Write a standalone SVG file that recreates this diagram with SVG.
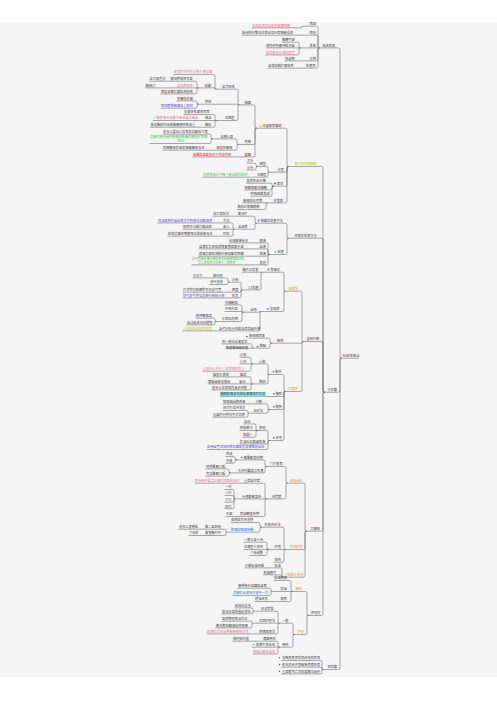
<svg xmlns="http://www.w3.org/2000/svg" width="497" height="702" viewBox="0 0 497 702">
<style>
text{font-family:"Noto Sans CJK SC","Noto Sans",sans-serif;font-size:3.2px;fill:#3c3c3c}
.pk{fill:#f06e8c}.rd{fill:#e8283c}.pu{fill:#5b45d6}.gr{fill:#39c548}.ye{fill:#cfc800}.or{fill:#f0882a}.bl{fill:#3d7fd9}
.rt{font-size:3.4px}
.sm{font-size:2.9px}
#connectors path{fill:none;stroke:#555;stroke-width:0.5}
</style>
<rect x="0" y="0" width="497" height="702" fill="#ffffff"/>
<rect x="0" y="22" width="497" height="655" fill="#f5f5f5"/>
<g id="connectors">
<path d="M340 358.2H359"/>
<path d="M318 47.9H338.5Q340 47.9 340 49.4V356.7Q340 358.2 341.5 358.2"/>
<path d="M323 392.2H338.5Q340 392.2 340 390.7V359.7Q340 358.2 341.5 358.2"/>
<path d="M322 669.5H338.5Q340 669.5 340 668V359.7Q340 358.2 341.5 358.2"/>
<path d="M302 26.2H316.5Q318 26.2 318 27.7V46.4Q318 47.9 319.5 47.9"/>
<path d="M302 35.2H316.5Q318 35.2 318 36.7V46.4Q318 47.9 319.5 47.9"/>
<path d="M299 47.9H318"/>
<path d="M302 60.9H316.5Q318 60.9 318 59.4V49.4Q318 47.9 319.5 47.9"/>
<path d="M302 68.2H316.5Q318 68.2 318 66.7V49.4Q318 47.9 319.5 47.9"/>
<path d="M251.5 27.8H301Q302 27.8 302 26.2"/>
<path d="M241.5 35.2H302"/>
<path d="M281.5 42.2H297.5Q299 42.2 299 43.7V46.4Q299 47.9 300.5 47.9"/>
<path d="M265.5 47.9H299"/>
<path d="M265.5 54.9H297.5Q299 54.9 299 53.4V49.4Q299 47.9 300.5 47.9"/>
<path d="M284.5 60.9H302"/>
<path d="M267.5 68.2H302"/>
<path d="M287 166.5H321.5Q323 166.5 323 168V390.7Q323 392.2 324.5 392.2"/>
<path d="M287 238.2H321.5Q323 238.2 323 239.7V390.7Q323 392.2 324.5 392.2"/>
<path d="M302 341.5H321.5Q323 341.5 323 343V390.7Q323 392.2 324.5 392.2"/>
<path d="M305 531.2H321.5Q323 531.2 323 529.7V393.7Q323 392.2 324.5 392.2"/>
<path d="M307 615.5H321.5Q323 615.5 323 614V393.7Q323 392.2 324.5 392.2"/>
<path d="M255 128.2H285.5Q287 128.2 287 129.7V165Q287 166.5 288.5 166.5"/>
<path d="M268 172.2H285.5Q287 172.2 287 170.7V168Q287 166.5 288.5 166.5"/>
<path d="M272 186.2H285.5Q287 186.2 287 184.7V168Q287 166.5 288.5 166.5"/>
<path d="M266 202.9H285.5Q287 202.9 287 201.4V168Q287 166.5 288.5 166.5"/>
<path d="M238 104.9H253.5Q255 104.9 255 106.4V126.7Q255 128.2 256.5 128.2"/>
<path d="M237 144.5H253.5Q255 144.5 255 143V129.7Q255 128.2 256.5 128.2"/>
<path d="M237 156.9H253.5Q255 156.9 255 155.4V129.7Q255 128.2 256.5 128.2"/>
<path d="M215 89.2H236.5Q238 89.2 238 90.7V103.4Q238 104.9 239.5 104.9"/>
<path d="M197 104.2H237.2Q238 104.2 238 104.9"/>
<path d="M215 120.5H236.5Q238 120.5 238 119V106.4Q238 104.9 239.5 104.9"/>
<path d="M173.5 74.5H213.5Q215 74.5 215 76V87.7Q215 89.2 216.5 89.2"/>
<path d="M197 87.9H214Q215 87.9 215 89.2"/>
<path d="M168 81.2H195.5Q197 81.2 197 82.7V86.4Q197 87.9 198.5 87.9"/>
<path d="M174 87.9H197"/>
<path d="M160.5 93.9H195.5Q197 93.9 197 92.4V89.4Q197 87.9 198.5 87.9"/>
<path d="M149 81.2H168"/>
<path d="M145 87.9H174"/>
<path d="M176.5 100.9H195.5Q197 100.9 197 102.4V102.7Q197 104.2 198.5 104.2"/>
<path d="M160.5 108.2H195.5Q197 108.2 197 106.7V105.7Q197 104.2 198.5 104.2"/>
<path d="M183.5 114.5H213.5Q215 114.5 215 116V119Q215 120.5 216.5 120.5"/>
<path d="M200 120.5H215"/>
<path d="M198 127.2H213.5Q215 127.2 215 125.7V122Q215 120.5 216.5 120.5"/>
<path d="M153 120.5H200"/>
<path d="M150 127.2H198"/>
<path d="M211 138.9H235.5Q237 138.9 237 140.4V143Q237 144.5 238.5 144.5"/>
<path d="M209 150.2H235.5Q237 150.2 237 148.7V146Q237 144.5 238.5 144.5"/>
<path d="M162.5 134.2H209.5Q211 134.2 211 135.7V137.4Q211 138.9 212.5 138.9"/>
<path d="M149.5 143.5H209.5Q211 143.5 211 142V140.4Q211 138.9 212.5 138.9"/>
<path d="M162.5 150.2H209"/>
<path d="M192.5 156.9H237"/>
<path d="M256 166.5H266.5Q268 166.5 268 168V170.7Q268 172.2 269.5 172.2"/>
<path d="M252 177.2H266.5Q268 177.2 268 175.7V173.7Q268 172.2 269.5 172.2"/>
<path d="M246.5 163.2H254.5Q256 163.2 256 164.7V165Q256 166.5 257.5 166.5"/>
<path d="M246.5 169.9H254.5Q256 169.9 256 168.4V168Q256 166.5 257.5 166.5"/>
<path d="M202.5 177.2H252"/>
<path d="M246 183.2H270.5Q272 183.2 272 184.7Q272 186.2 273.5 186.2"/>
<path d="M244 189.9H270.5Q272 189.9 272 188.4V187.7Q272 186.2 273.5 186.2"/>
<path d="M250 196.2H270.5Q272 196.2 272 194.7V187.7Q272 186.2 273.5 186.2"/>
<path d="M242.5 202.9H266"/>
<path d="M237 209.5H264.5Q266 209.5 266 208V204.4Q266 202.9 267.5 202.9"/>
<path d="M255 223.2H285.5Q287 223.2 287 224.7V236.7Q287 238.2 288.5 238.2"/>
<path d="M268 254.5H285.5Q287 254.5 287 253V239.7Q287 238.2 288.5 238.2"/>
<path d="M233 216.2H253.5Q255 216.2 255 217.7V221.7Q255 223.2 256.5 223.2"/>
<path d="M233 229.2H253.5Q255 229.2 255 227.7V224.7Q255 223.2 256.5 223.2"/>
<path d="M212.5 216.2H233"/>
<path d="M217 222.9H231.5Q233 222.9 233 224.4V227.7Q233 229.2 234.5 229.2"/>
<path d="M217 229.2H233"/>
<path d="M217 236.2H231.5Q233 236.2 233 234.7V230.7Q233 229.2 234.5 229.2"/>
<path d="M157.5 222.9H217"/>
<path d="M182.5 229.2H217"/>
<path d="M167.5 236.2H217"/>
<path d="M251 242.9H266.5Q268 242.9 268 244.4V253Q268 254.5 269.5 254.5"/>
<path d="M251 248.9H266.5Q268 248.9 268 250.4V253Q268 254.5 269.5 254.5"/>
<path d="M251 256.2H267Q268 256.2 268 254.5"/>
<path d="M251 264.9H266.5Q268 264.9 268 263.4V256Q268 254.5 269.5 254.5"/>
<path d="M228.5 242.9H251"/>
<path d="M198.5 248.9H251"/>
<path d="M198.5 256.2H251"/>
<path d="M191.5 264.9H251"/>
<path d="M284 291.2H300.5Q302 291.2 302 292.7V340Q302 341.5 303.5 341.5"/>
<path d="M270 343.2H301Q302 343.2 302 341.5"/>
<path d="M284 391.5H300.5Q302 391.5 302 390V343Q302 341.5 303.5 341.5"/>
<path d="M261 272.2H282.5Q284 272.2 284 273.7V289.7Q284 291.2 285.5 291.2"/>
<path d="M260 311.5H282.5Q284 311.5 284 310V292.7Q284 291.2 285.5 291.2"/>
<path d="M242 272.2H261"/>
<path d="M241 289.9H259.5Q261 289.9 261 288.4V273.7Q261 272.2 262.5 272.2"/>
<path d="M228 282.2H239.5Q241 282.2 241 283.7V288.4Q241 289.9 242.5 289.9"/>
<path d="M228 292.2H240Q241 292.2 241 289.9"/>
<path d="M228 297.9H239.5Q241 297.9 241 296.4V291.4Q241 289.9 242.5 289.9"/>
<path d="M209 277.9H226.5Q228 277.9 228 279.4V280.7Q228 282.2 229.5 282.2"/>
<path d="M209.5 284.5H227Q228 284.5 228 282.2"/>
<path d="M192.5 277.9H209"/>
<path d="M182.5 292.2H228"/>
<path d="M182.5 297.9H228"/>
<path d="M242 312.2H259Q260 312.2 260 311.5"/>
<path d="M216 330.9H258.5Q260 330.9 260 329.4V313Q260 311.5 261.5 311.5"/>
<path d="M224.5 304.9H240.5Q242 304.9 242 306.4V310.7Q242 312.2 243.5 312.2"/>
<path d="M224.5 311.5H241.3Q242 311.5 242 312.2"/>
<path d="M215 321.5H240.5Q242 321.5 242 320V313.7Q242 312.2 243.5 312.2"/>
<path d="M195.5 318.2H213.5Q215 318.2 215 319.7V320Q215 321.5 216.5 321.5"/>
<path d="M186.5 324.9H213.5Q215 324.9 215 323.4V323Q215 321.5 216.5 321.5"/>
<path d="M182.5 330.9H216"/>
<path d="M248.5 338.2H268.5Q270 338.2 270 339.7V341.7Q270 343.2 271.5 343.2"/>
<path d="M252 348.2H268.5Q270 348.2 270 346.7V344.7Q270 343.2 271.5 343.2"/>
<path d="M221.5 343.9H250.5Q252 343.9 252 345.4V346.7Q252 348.2 253.5 348.2"/>
<path d="M225.5 348.2H252"/>
<path d="M268 374.5H282.5Q284 374.5 284 376V390Q284 391.5 285.5 391.5"/>
<path d="M270 396.5H282.5Q284 396.5 284 395V393Q284 391.5 285.5 391.5"/>
<path d="M268 409.5H282.5Q284 409.5 284 408V393Q284 391.5 285.5 391.5"/>
<path d="M268 440.5H282.5Q284 440.5 284 439V393Q284 391.5 285.5 391.5"/>
<path d="M251 363.9H266.5Q268 363.9 268 365.4V373Q268 374.5 269.5 374.5"/>
<path d="M251 383.9H266.5Q268 383.9 268 382.4V376Q268 374.5 269.5 374.5"/>
<path d="M239.5 357.2H249.5Q251 357.2 251 358.7V362.4Q251 363.9 252.5 363.9"/>
<path d="M239.5 363.9H251"/>
<path d="M202.5 371.2H249.5Q251 371.2 251 369.7V365.4Q251 363.9 252.5 363.9"/>
<path d="M235 376.9H249.5Q251 376.9 251 378.4V382.4Q251 383.9 252.5 383.9"/>
<path d="M235 383.9H251"/>
<path d="M211.5 389.9H249.5Q251 389.9 251 388.4V385.4Q251 383.9 252.5 383.9"/>
<path d="M212.5 376.9H235"/>
<path d="M207.5 383.9H235"/>
<path d="M220 396.5H270"/>
<path d="M248 403.9H266.5Q268 403.9 268 405.4V408Q268 409.5 269.5 409.5"/>
<path d="M248 413.2H266.5Q268 413.2 268 411.7V411Q268 409.5 269.5 409.5"/>
<path d="M222.5 403.9H248"/>
<path d="M222.5 410.5H247Q248 410.5 248 411.5V413.2"/>
<path d="M212.5 417.2H246.5Q248 417.2 248 415.7V413.2"/>
<path d="M256 430.5H266.5Q268 430.5 268 432V439Q268 440.5 269.5 440.5"/>
<path d="M239.5 443.9H266.5Q268 443.9 268 442.4V442Q268 440.5 269.5 440.5"/>
<path d="M206.5 449.5H266.5Q268 449.5 268 448V442Q268 440.5 269.5 440.5"/>
<path d="M243.5 423.9H254.5Q256 423.9 256 425.4V429Q256 430.5 257.5 430.5"/>
<path d="M239.5 430.5H256"/>
<path d="M242.5 437.2H254.5Q256 437.2 256 435.7V432Q256 430.5 257.5 430.5"/>
<path d="M286 483.2H303.5Q305 483.2 305 484.7V529.7Q305 531.2 306.5 531.2"/>
<path d="M284 549.5H303.5Q305 549.5 305 548V532.7Q305 531.2 306.5 531.2"/>
<path d="M282 577.2H303.5Q305 577.2 305 575.7V532.7Q305 531.2 306.5 531.2"/>
<path d="M265 466.5H284.5Q286 466.5 286 468V481.7Q286 483.2 287.5 483.2"/>
<path d="M265 498.9H284.5Q286 498.9 286 497.4V484.7Q286 483.2 287.5 483.2"/>
<path d="M235 459.9H263.5Q265 459.9 265 461.4V465Q265 466.5 266.5 466.5"/>
<path d="M229 472.9H263.5Q265 472.9 265 471.4V468Q265 466.5 266.5 466.5"/>
<path d="M225.5 456.5H233.5Q235 456.5 235 458V458.4Q235 459.9 236.5 459.9"/>
<path d="M225.5 463.2H233.5Q235 463.2 235 461.7V461.4Q235 459.9 236.5 459.9"/>
<path d="M205.5 468.9H227.5Q229 468.9 229 470.4V471.4Q229 472.9 230.5 472.9"/>
<path d="M205.5 476.2H227.5Q229 476.2 229 474.7V474.4Q229 472.9 230.5 472.9"/>
<path d="M241 483.2H263.5Q265 483.2 265 484.7V497.4Q265 498.9 266.5 498.9"/>
<path d="M234 498.9H265"/>
<path d="M235 516.5H263.5Q265 516.5 265 515V500.4Q265 498.9 266.5 498.9"/>
<path d="M194.5 483.2H241"/>
<path d="M224.5 489.5H232.5Q234 489.5 234 491V497.4Q234 498.9 235.5 498.9"/>
<path d="M224.5 495.5H232.5Q234 495.5 234 497V498.9"/>
<path d="M224.5 502.2H232.5Q234 502.2 234 500.7V498.9"/>
<path d="M224.5 508.7H232.5Q234 508.7 234 507.2V498.9"/>
<path d="M225.5 516.5H235"/>
<path d="M260 527.2H282.5Q284 527.2 284 528.7V548Q284 549.5 285.5 549.5"/>
<path d="M267 549.5H284"/>
<path d="M274 562.2H282.5Q284 562.2 284 560.7V551Q284 549.5 285.5 549.5"/>
<path d="M230.5 522.5H258.5Q260 522.5 260 524V525.7Q260 527.2 261.5 527.2"/>
<path d="M226 532.2H258.5Q260 532.2 260 530.7V528.7Q260 527.2 261.5 527.2"/>
<path d="M202 529.2H224.5Q226 529.2 226 530.7V532.2"/>
<path d="M202 535.5H224.5Q226 535.5 226 534V532.2"/>
<path d="M178.5 529.2H202"/>
<path d="M188.5 535.5H202"/>
<path d="M243.5 542.2H265.5Q267 542.2 267 543.7V548Q267 549.5 268.5 549.5"/>
<path d="M243.5 549.5H267"/>
<path d="M249.5 555.5H265.5Q267 555.5 267 554V551Q267 549.5 268.5 549.5"/>
<path d="M266 567.9H280.5Q282 567.9 282 569.4V575.7Q282 577.2 283.5 577.2"/>
<path d="M263 574.9H281Q282 574.9 282 576V577.2"/>
<path d="M244.5 567.9H266"/>
<path d="M291 591.5H305.5Q307 591.5 307 593V614Q307 615.5 308.5 615.5"/>
<path d="M293 634.5H305.5Q307 634.5 307 633V617Q307 615.5 308.5 615.5"/>
<path d="M273.5 580.5H289.5Q291 580.5 291 582V590Q291 591.5 292.5 591.5"/>
<path d="M271 591.5H291"/>
<path d="M271 601.5H289.5Q291 601.5 291 600V593Q291 591.5 292.5 591.5"/>
<path d="M237.5 588.2H269.5Q271 588.2 271 589.7V591.5"/>
<path d="M232.5 595.5H269.5Q271 595.5 271 594V591.5"/>
<path d="M254.5 601.5H271"/>
<path d="M278 623.2H291.5Q293 623.2 293 624.7V633Q293 634.5 294.5 634.5"/>
<path d="M278 647.2H291.5Q293 647.2 293 645.7V636Q293 634.5 294.5 634.5"/>
<path d="M253 611.2H276.5Q278 611.2 278 612.7V621.7Q278 623.2 279.5 623.2"/>
<path d="M252 623.2H278"/>
<path d="M252 633.9H276.5Q278 633.9 278 632.4V624.7Q278 623.2 279.5 623.2"/>
<path d="M234.5 607.9H251.5Q253 607.9 253 609.4V611.2"/>
<path d="M221.5 613.9H251.5Q253 613.9 253 612.4V611.2"/>
<path d="M221.5 621.2H251Q252 621.2 252 622.2V623.2"/>
<path d="M215.5 627.9H250.5Q252 627.9 252 626.4V623.2"/>
<path d="M206.5 633.9H252"/>
<path d="M253 641.2H276.5Q278 641.2 278 642.7V645.7Q278 647.2 279.5 647.2"/>
<path d="M252 647.2H278"/>
<path d="M252.5 653.9H276.5Q278 653.9 278 652.4V648.7Q278 647.2 279.5 647.2"/>
<path d="M232.5 641.2H253"/>
<path d="M281.5 660.5H320.5Q322 660.5 322 662V668Q322 669.5 323.5 669.5"/>
<path d="M281.5 667.2H320.5Q322 667.2 322 668.2V669.5"/>
<path d="M281.5 673.9H320.5Q322 673.9 322 672.4V669.5"/>
</g>
<g id="root"><text class="rt" x="342.5" y="357.2">社区性肺炎</text></g>
<g id="n-l1a"><text x="322.5" y="46.8">临床表现</text></g>
<g id="n-l1b"><text x="327.5" y="391.1">诊疗篇</text></g>
<g id="n-l1c"><text x="327.5" y="668.4">预后篇</text></g>
<g id="n-t1"><text x="309.5" y="25.1">病因</text></g>
<g id="n-t2"><text x="309.5" y="34.1">病理</text></g>
<g id="n-t3"><text x="309.5" y="46.8">表现</text></g>
<g id="n-t4"><text x="309.5" y="59.8">分期</text></g>
<g id="n-t5"><text x="306" y="67.1">检查项</text></g>
<g id="n-t1c"><text class="pk" x="252" y="26.7">急性起病寒战高热胸痛咳嗽</text></g>
<g id="n-t2c"><text x="242" y="34.1">肺泡内纤维蛋白渗出及炎症细胞浸润</text></g>
<g id="n-t3c1"><text x="282" y="41.1">胸痛气促</text></g>
<g id="n-t3c2"><text x="266" y="46.8">咳铁锈色痰呼吸急促</text></g>
<g id="n-t3c3"><text class="pk" x="266" y="53.8">肺实变体征湿性啰音</text></g>
<g id="n-t4c"><text x="285" y="59.8">充血期</text></g>
<g id="n-t5c"><text x="268" y="67.1">血常规胸片痰培养</text></g>
<g id="n-A"><text class="ye" x="294.5" y="165.4">肺炎链球菌感染</text></g>
<g id="n-B"><text x="294.5" y="237.1">病原学检查方法</text></g>
<g id="n-C"><text x="306.5" y="340.4">鉴别诊断</text></g>
<g id="n-D"><text x="310.5" y="530.1">抗感染</text></g>
<g id="n-E"><text x="311" y="614.4">护理学</text></g>
<g id="n-a1"><circle cx="260.5" cy="126" r="0.9" fill="#e6d200"/><text x="262.5" y="127.1">主要致病菌群</text></g>
<g id="n-a2"><text x="277.5" y="171.1">分型</text></g>
<g id="n-a3"><circle cx="275" cy="183.5" r="0.9" fill="#e8283c"/><text x="277" y="185.1">症状</text></g>
<g id="n-a4"><text x="273.5" y="201.8">并发症</text></g>
<g id="n-a1a"><text x="244.5" y="103.8">细菌</text></g>
<g id="n-a1b"><text x="244.5" y="143.4">病毒</text></g>
<g id="n-a1c"><text x="244.5" y="155.8">真菌</text></g>
<g id="n-228"><text x="222" y="88.1">革兰阳性</text></g>
<g id="n-209"><text x="205" y="103.1">阴性</text></g>
<g id="n-227"><text x="225" y="119.4">非典型</text></g>
<g id="n-pk1"><text class="pk" x="174" y="73.4">痰呈铁锈色提示肺炎链球菌</text></g>
<g id="n-207"><text x="204.5" y="86.8">球菌</text></g>
<g id="n-170"><text x="170.5" y="80.1">痰培养阳性率高</text></g>
<g id="n-170c"><text x="149.5" y="80.1">革兰染色法</text></g>
<g id="n-pk2"><text class="pk" x="177" y="86.8">血培养阳性</text></g>
<g id="n-pk2c"><text x="145.5" y="86.8">胸部CT</text></g>
<g id="n-161"><text x="161" y="92.8">荚膜多糖抗原检测阳性</text></g>
<g id="n-177"><text x="177" y="99.8">克雷伯杆菌</text></g>
<g id="n-pu1"><text class="pu" x="161" y="107.1">铜绿假单胞菌多重耐药</text></g>
<g id="n-184"><text x="184" y="113.4">支原体衣原体军团</text></g>
<g id="n-205a"><text x="205" y="119.4">咯血</text></g>
<g id="n-205ac"><text class="pk" x="153.5" y="119.4">少数患者出现痰中带血或大咯血</text></g>
<g id="n-205b"><text x="205" y="126.1">胸膜</text></g>
<g id="n-205bc"><text x="150.5" y="126.1">累及胸膜时出现胸痛随呼吸加重</text></g>
<g id="n-220"><text x="220.5" y="137.8">易感人群</text></g>
<g id="n-163a"><text x="163" y="133.1">老年人婴幼儿及免疫功能低下者</text></g>
<g id="n-g1"><text class="gr" x="150" y="137.8">流感病毒合胞病毒腺病毒鼻病毒冠状病毒</text><text class="gr" x="177.5" y="142.4">常见</text></g>
<g id="n-216"><text x="216.5" y="149.1">继发性感染</text></g>
<g id="n-216c"><text x="163" y="149.1">病毒感染后继发细菌感染多见</text></g>
<g id="n-red1"><text class="rd" x="193" y="155.8">曲霉念珠菌多见于免疫抑制</text></g>
<g id="n-259"><text x="259.5" y="165.4">典型</text></g>
<g id="n-da"><text x="247" y="162.1">大叶</text></g>
<g id="n-xa"><text x="247" y="168.8">小叶</text></g>
<g id="n-256"><text x="257" y="176.1">非典型</text></g>
<g id="n-256c"><text class="gr" x="203" y="176.1">间质性肺炎干咳少痰及肺外症状</text></g>
<g id="n-a3c1"><text x="246.5" y="182.1">高热寒战头痛</text></g>
<g id="n-a3c2"><text x="244.5" y="188.8">咳嗽咳痰伴胸痛</text></g>
<g id="n-a3c3"><text x="250.5" y="195.1">呼吸困难发绀</text></g>
<g id="n-a4c1"><text x="243" y="201.8">感染性休克等</text></g>
<g id="n-a4c2"><text x="237.5" y="208.4">胸膜炎脓胸脓肿</text></g>
<g id="n-b1"><circle cx="258.5" cy="220.5" r="0.9" fill="#3d7fd9"/><text x="260.5" y="222.1">细菌学检查方法</text></g>
<g id="n-b2"><circle cx="275.3" cy="251.8" r="0.9" fill="#2cc0b8"/><text x="277.5" y="253.4">检查</text></g>
<g id="n-m1"><text x="238" y="215.1">痰涂片</text></g>
<g id="n-m1c"><text x="213" y="215.1">涂片镜检法</text></g>
<g id="n-m2"><text x="238" y="228.1">血培养</text></g>
<g id="n-q1"><text x="223" y="221.8">方法</text></g>
<g id="n-q1c"><text class="pu" x="158" y="221.8">寒战高热时采血两次不同部位双瓶培养</text></g>
<g id="n-q2"><text x="223" y="228.1">意义</text></g>
<g id="n-q2c"><text x="183" y="228.1">阳性可以确诊菌血症</text></g>
<g id="n-q3"><text x="223" y="235.1">时机</text></g>
<g id="n-q3c"><text x="168" y="235.1">应在抗菌药物使用之前采集标本</text></g>
<g id="n-c1"><text x="259.5" y="241.8">痰液</text></g>
<g id="n-c1c"><text x="229" y="241.8">合格痰液标本</text></g>
<g id="n-c2"><text x="259.5" y="247.8">血液</text></g>
<g id="n-c2c"><text x="199" y="247.8">血清学抗体检测恢复期滴度升高</text></g>
<g id="n-c3"><text x="259.5" y="255.1">尿液</text></g>
<g id="n-c3c"><text x="199" y="255.1">尿液抗原检测肺炎链球菌军团菌</text></g>
<g id="n-c4"><text x="259.5" y="263.8">其他</text></g>
<g id="n-c4c"><text class="gr sm" x="192" y="259.9">支气管肺泡灌洗液检查及经皮肺穿刺活检</text><text class="gr sm" x="198" y="263.7">侵入性检查仅适用于重症患者</text></g>
<g id="n-O1"><text class="or" x="288.5" y="290.1">检查法</text></g>
<g id="n-O1a"><circle cx="268.3" cy="269.5" r="0.9" fill="#3d7fd9"/><text x="270.5" y="271.1">影像学</text></g>
<g id="n-n1"><text x="242.5" y="271.1">胸片示实变</text></g>
<g id="n-n2"><text x="248.5" y="288.8">CT检查</text></g>
<g id="n-mm1"><text x="232" y="281.1">分布</text></g>
<g id="n-mm1a"><text x="213" y="276.8">肺叶段</text></g>
<g id="n-mm1ac"><text x="193" y="276.8">左右下</text></g>
<g id="n-mm1b"><text x="210" y="283.4">多叶多段</text></g>
<g id="n-mm2"><text x="232" y="291.1">密度</text></g>
<g id="n-mm2c"><text x="183" y="291.1">片状均匀致密影可见支气管</text></g>
<g id="n-mm3"><text x="232" y="296.8">形态</text></g>
<g id="n-mm3c"><text class="pu" x="183" y="296.8">空气支气管征呈肺叶肺段分布</text></g>
<g id="n-O1b"><circle cx="267.8" cy="308.8" r="0.9" fill="#3d7fd9"/><text x="270" y="310.4">实验室</text></g>
<g id="n-k1"><text x="250.5" y="311.1">血象</text></g>
<g id="n-k1a"><text x="225" y="303.8">白细胞高</text></g>
<g id="n-k1b"><text x="225" y="310.4">中性升高</text></g>
<g id="n-k13"><text x="222" y="320.4">炎症标志物</text></g>
<g id="n-k13a"><text x="196" y="317.1">降钙素原高</text></g>
<g id="n-k13b"><text x="187" y="323.8">血沉反应蛋白增快</text></g>
<g id="n-k2"><text x="219" y="329.8">血气分析示低氧血症及碱中毒</text></g>
<g id="n-k2c"><text class="ye" x="183" y="329.8">重症应监测氧饱和度</text></g>
<g id="n-Cm"><text x="277" y="342.1">疾病</text></g>
<g id="n-Cm1"><circle cx="247" cy="336.5" r="0.8" fill="#555"/><text x="249" y="337.1">肺结核病变</text></g>
<g id="n-Cm2"><circle cx="257.5" cy="346.5" r="0.8" fill="#555"/><text x="259.5" y="347.1">肺癌</text></g>
<g id="n-Cm2a"><text x="222" y="342.8">同一部位反复发生</text></g>
<g id="n-Cm2b"><text x="226" y="349.4">痰脱落细胞检查</text></g>
<g id="n-O2"><text class="or" x="288" y="390.4">并发症</text></g>
<g id="n-p1"><circle cx="273.5" cy="371.8" r="0.8" fill="#555"/><text x="275" y="373.4">肺外</text></g>
<g id="n-r1"><text x="259" y="362.8">心脏</text></g>
<g id="n-r1a"><text x="240" y="356.1">心肌</text></g>
<g id="n-r1b"><text x="240" y="362.8">心包</text></g>
<g id="n-r1c"><text class="pk" x="203" y="370.1">心肌炎心包炎少见病情较危重</text></g>
<g id="n-r2"><text x="259" y="382.8">神经</text></g>
<g id="n-s1"><text x="240" y="375.8">脑膜</text></g>
<g id="n-s1c"><text x="213" y="375.8">脑膜炎表现</text></g>
<g id="n-s2"><text x="239" y="382.8">意识</text></g>
<g id="n-s2c"><text x="208" y="382.8">嗜睡谵妄及昏迷</text></g>
<g id="n-s3"><text x="212" y="388.8">老年人仅表现为意识改变</text></g>
<g id="n-p2"><circle cx="273.8" cy="393.8" r="0.8" fill="#555"/><text x="275.5" y="395.4">胸腔</text></g>
<g id="n-p2c"><rect x="220" y="392.1" width="45.6" height="4.2" fill="#8ae6e6"/><text x="220.5" y="395.4">胸腔积液多为渗出液需及时引流</text></g>
<g id="n-p3"><circle cx="273.8" cy="406.8" r="0.8" fill="#555"/><text x="275.5" y="408.4">脓肿</text></g>
<g id="n-v1"><text x="255.5" y="402.8">诊断</text></g>
<g id="n-v1c"><text x="223" y="402.8">穿刺抽出脓性液</text></g>
<g id="n-v2"><text x="253.5" y="412.1">治疗法</text></g>
<g id="n-v2a"><text x="223" y="409.4">闭式引流冲洗法</text></g>
<g id="n-v2b"><text x="213" y="416.1">必要时行外科手术切除</text></g>
<g id="n-p4"><circle cx="273.8" cy="437.8" r="0.8" fill="#555"/><text x="275.5" y="439.4">休克</text></g>
<g id="n-w1"><text x="259" y="429.4">表现</text></g>
<g id="n-w1a"><text x="244" y="422.8">血压</text></g>
<g id="n-w1b"><text x="240" y="429.4">四肢厥冷</text></g>
<g id="n-w1c"><text x="243" y="436.1">尿量少</text></g>
<g id="n-w2"><text x="240" y="442.8">扩容纠正酸碱失衡</text></g>
<g id="n-w3"><text class="pu" x="207" y="448.4">应用血管活性药物及糖皮质激素维持血压</text></g>
<g id="n-D1"><text class="or" x="290" y="482.1">经验治疗</text></g>
<g id="n-x1"><text x="270" y="465.4">门诊患者</text></g>
<g id="n-y1"><circle cx="241.5" cy="457.2" r="0.8" fill="#555"/><text x="243.5" y="458.8">青霉素类药物</text></g>
<g id="n-y1a"><text x="226" y="455.4">首选</text></g>
<g id="n-y1b"><text x="226" y="462.1">剂量</text></g>
<g id="n-y2"><text x="238" y="471.8">大环内酯类抗生素</text></g>
<g id="n-y2a"><text x="206" y="467.8">阿奇霉素口服</text></g>
<g id="n-y2b"><text x="206" y="475.1">克拉霉素口服</text></g>
<g id="n-x2"><text x="272" y="497.8">住院者</text></g>
<g id="n-z1"><text x="244" y="482.1">重症监护室</text></g>
<g id="n-z1c"><text class="pk" x="195" y="482.1">联合用药覆盖非典型病原体治疗</text></g>
<g id="n-z2"><text x="242" y="497.8">头孢菌素类药</text></g>
<g id="n-z2a"><text x="225" y="488.4">一代</text></g>
<g id="n-z2b"><text x="225" y="494.4">二代</text></g>
<g id="n-z2c"><text x="225" y="501.1">三代</text></g>
<g id="n-z2d"><text x="225" y="507.6">四代</text></g>
<g id="n-z3"><text x="240" y="515.4">喹诺酮类药物</text></g>
<g id="n-z3c"><text x="226" y="515.4">左氧</text></g>
<g id="n-D2"><text class="or" x="290" y="548.4">疗程疗效</text></g>
<g id="n-aa"><text x="264.5" y="526.1">疗效评价法</text></g>
<g id="n-aa1"><text x="231" y="521.4">退热症状改善快</text></g>
<g id="n-ad"><rect x="230.5" y="528" width="23.2" height="4.1" fill="#d3e6fb"/><text class="bl" x="231" y="531.1">影像学吸收较慢</text></g>
<g id="n-ae"><text x="205" y="528.1">需二至四周</text></g>
<g id="n-aec"><text x="179" y="528.1">老年人更慢些</text></g>
<g id="n-af"><text x="205" y="534.4">复查胸片时</text></g>
<g id="n-afc"><text x="189" y="534.4">六周后</text></g>
<g id="n-ab"><text x="274.5" y="548.4">疗程</text></g>
<g id="n-ab1"><text x="244" y="541.1">一般七至十天</text></g>
<g id="n-ab2"><text x="244" y="548.4">非典型十四天</text></g>
<g id="n-ab3"><text x="250" y="554.4">个体调整</text></g>
<g id="n-ac"><text x="274.5" y="561.1">停药</text></g>
<g id="n-D3"><text class="or" x="284.5" y="576.1">重症肺炎处理</text></g>
<g id="n-ag"><text x="274.5" y="566.8">标准</text></g>
<g id="n-agc"><text x="245" y="566.8">诊断标准判断</text></g>
<g id="n-ah"><text x="263.5" y="573.8">机械通气</text></g>
<g id="n-E1"><text class="or" x="295.5" y="590.4">预防</text></g>
<g id="n-e1"><text x="274" y="579.4">戒烟限酒</text></g>
<g id="n-e2"><text x="280.5" y="590.4">疫苗</text></g>
<g id="n-e2a"><text x="238" y="587.1">接种肺炎球菌疫苗等</text></g>
<g id="n-e2b"><text class="bl" x="233" y="594.4">流感疫苗需每年接种一次</text></g>
<g id="n-e3"><text x="280.5" y="600.4">锻炼</text></g>
<g id="n-e3c"><text x="255" y="600.4">增强体质</text></g>
<g id="n-E2"><text class="or" x="297.5" y="633.4">护理</text></g>
<g id="n-f1"><text x="282" y="622.1">一般</text></g>
<g id="n-g1n"><text x="261" y="610.1">休息饮食</text></g>
<g id="n-g1a"><text x="235" y="606.8">卧床休息多</text></g>
<g id="n-g1b"><text x="222" y="612.8">高蛋白高热量易消化</text></g>
<g id="n-g2"><text x="259" y="622.1">对症护理法</text></g>
<g id="n-g2a"><text x="222" y="620.1">高热物理降温为主</text></g>
<g id="n-g2b"><text x="216" y="626.8">痰多者应翻身拍背吸痰</text></g>
<g id="n-g3"><text x="259" y="632.8">病情观察法</text></g>
<g id="n-g3c"><text class="pk" x="207" y="632.8">观察生命体征警惕感染性休克</text></g>
<g id="n-f2"><text x="282" y="646.1">用药</text></g>
<g id="n-h1"><text x="263" y="640.1">遵医用药</text></g>
<g id="n-h1c"><text x="233" y="640.1">按时按剂量</text></g>
<g id="n-h2"><circle cx="253.5" cy="644.5" r="0.8" fill="#39c548"/><text x="256" y="646.1">观察不良反应</text></g>
<g id="n-h3"><text class="pk" x="253" y="652.8">警惕过敏性反应</text></g>
<g id="n-l1c1"><circle cx="279.5" cy="657.8" r="0.7" fill="#555"/><text x="282" y="659.4">多数患者预后良好痊愈率高</text></g>
<g id="n-l1c2"><circle cx="279.5" cy="664.5" r="0.7" fill="#555"/><text x="282" y="666.1">老年及合并基础疾病者较差</text></g>
<g id="n-l1c3"><circle cx="279.5" cy="671.2" r="0.7" fill="#555"/><text x="282" y="672.8">重症者死亡率较高需早治疗</text></g>
</svg>
